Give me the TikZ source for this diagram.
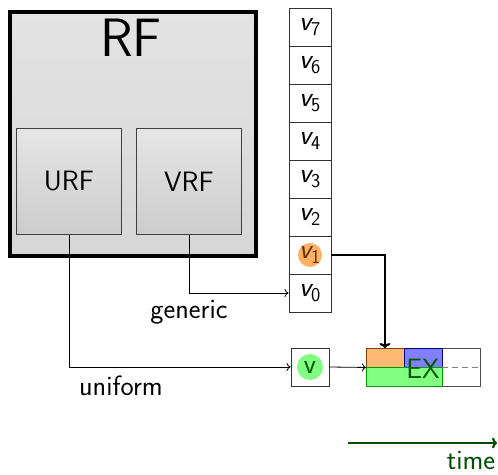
\documentclass[tikz,border=0pt]{standalone}
\usetikzlibrary{arrows.meta}
\tikzset{
  lbl/.style={font=\fontsize{28}{32}\selectfont\sffamily},
  box/.style={draw=black!75, line width=0.9pt, top color=gray!20, bottom color=gray!40,
    minimum width=105pt, minimum height=106pt, inner sep=0pt, anchor=north west},
  cell/.style={draw=black!80, line width=0.9pt, fill=white, minimum width=42pt, minimum height=38pt,
    inner sep=0pt},
  wire/.style={draw=black, line width=0.8pt, -{To[length=4pt,width=8pt]}},
  bus/.style={draw=black, line width=2.2pt, -{To[length=5pt,width=11pt]}},
}
\newcommand{\vreg}[1]{{\slshape v}\textsubscript{#1}}
\begin{document}
\begin{tikzpicture}[x=1pt,y=-1pt]
\useasboundingbox (0,0) rectangle (498,474);

% register file with its two parts
\node[draw=black, line width=3.5pt, top color=gray!22, bottom color=gray!32,
  minimum width=246pt, minimum height=244pt, inner sep=0pt, anchor=north west] (rf) at (8,10) {};
\node[font=\fontsize{54}{60}\selectfont\sffamily] (rfl) at (131,38) {RF};
\node[box, lbl] (urf) at (16,128) {URF};
\node[box, lbl] (vrf) at (136,128) {VRF};

% vector registers v0..v7
\foreach \i [evaluate=\i as \yy using {8+38*(7-\i)+19}] in {0,...,7} {
  \node[cell] (c\i) at (310,\yy) {};
}
\foreach \i in {0,2,3,4,5,6,7} { \node[lbl] at (c\i) {\vreg{\i}}; }
\fill[orange!60] (c1.center) circle (12pt);
\node[lbl, text=orange!40!black] at (c1) {\vreg{1}};

% uniform value
\node[cell, minimum width=38pt] (vb) at (310,367) {};
\fill[green!50] (vb.center) circle (13pt);
\node[lbl, text=green!35!black] at (vb) {v};

% execution slot
\coordinate (ex) at (366,348);
\node[draw=black!70, line width=0.9pt, minimum width=114pt, minimum height=38pt, inner sep=0pt,
  anchor=north west] (exb) at (ex) {};
\filldraw[fill=orange!55, draw=orange!50!black, line width=0.8pt] (366,348) rectangle (404,367);
\filldraw[fill=blue!50, draw=blue!50!black, line width=0.8pt] (404,348) rectangle (442,367);
\filldraw[fill=green!50, draw=green!60!black, line width=0.8pt] (366,367) rectangle (442,386);
\draw[gray, line width=0.8pt, dash pattern=on 6pt off 4pt] (442,367) -- (480,367);
\node[lbl, text=green!35!black] (exl) at (423,369) {EX};

% connections
\draw[wire] (vrf.south) |- (c0.west);
\node[lbl] (gen) at (189,312) {generic};
\draw[wire] (urf.south) |- (vb.west);
\node[lbl] (uni) at (121,386) {uniform};
\draw[wire] (vb.east) -- (exb.west);
\draw[bus] (c1.east) -| (exb.north -| 385,0);

% time axis
\coordinate (t0) at (348,443);
\coordinate (t1) at (497,443);
\draw[green!30!black, line width=2.2pt, -{To[length=5pt,width=11pt]}] (t0) -- (t1);
\node[lbl, text=green!30!black, anchor=base] (tl) at (471,469) {time};
\end{tikzpicture}
\end{document}
